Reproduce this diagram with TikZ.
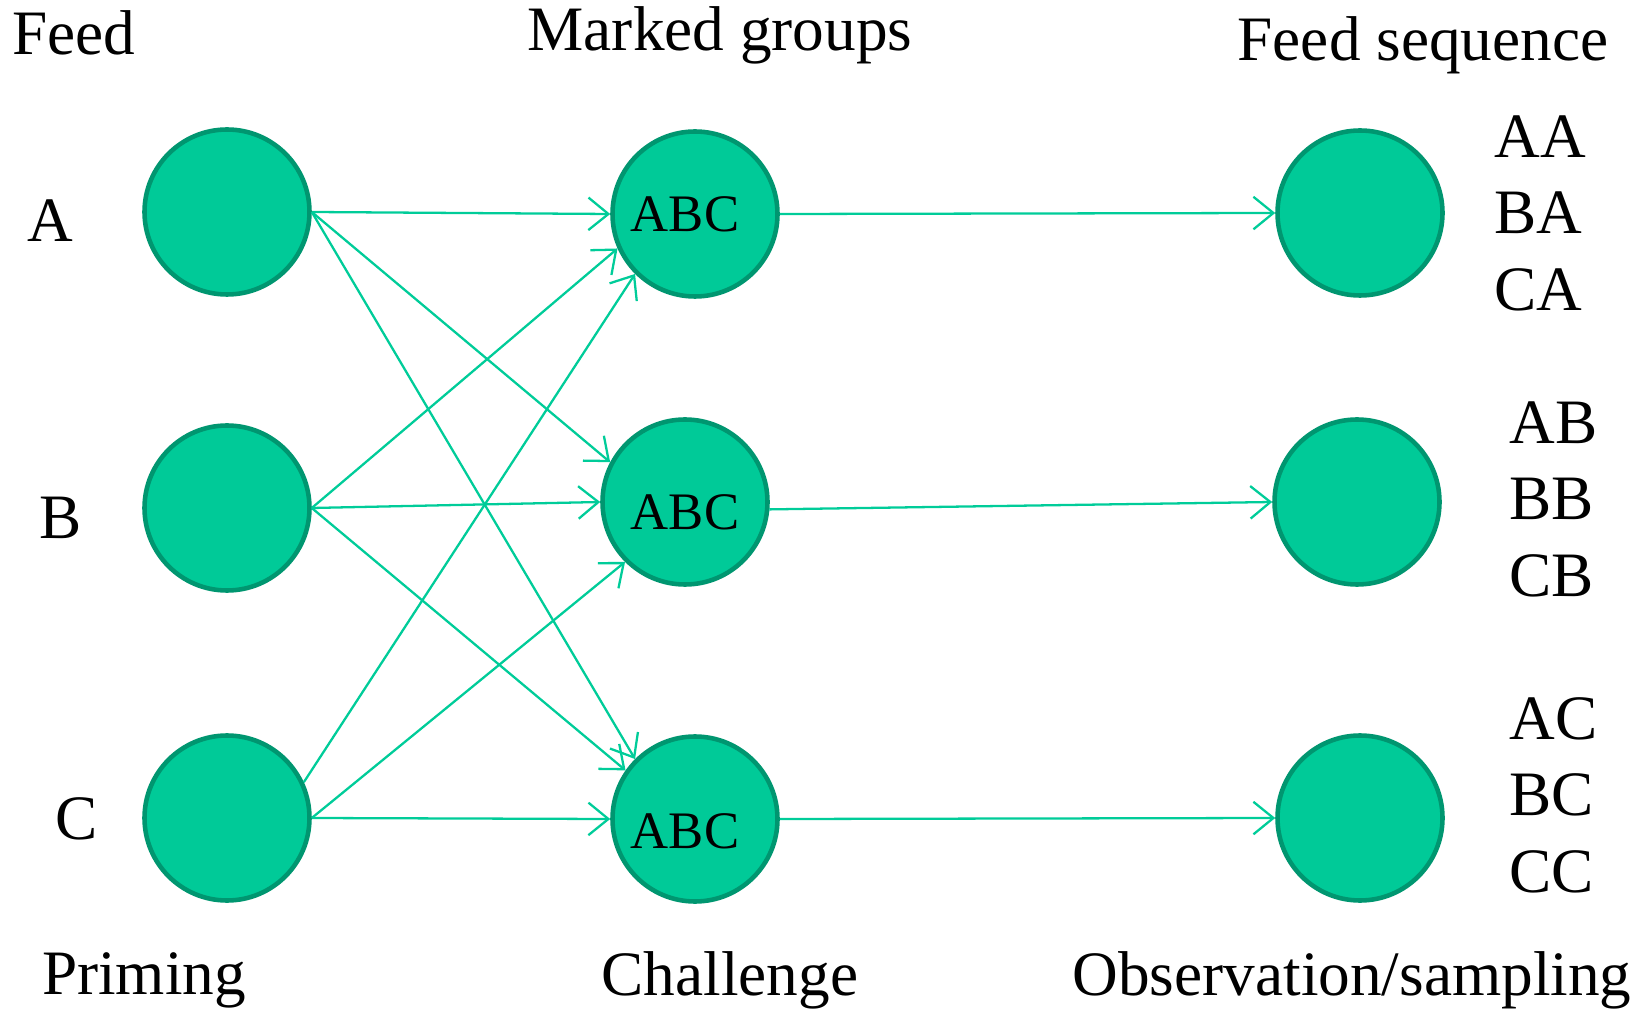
\documentclass[tikz,border=0pt]{standalone}
\usepackage{fontspec}
\setmainfont{Liberation Serif}
\usetikzlibrary{arrows.meta}

\definecolor{groupfill}{RGB}{0,202,152}
\definecolor{groupdraw}{RGB}{0,150,112}
\definecolor{arrowcol}{RGB}{0,204,153}

\tikzset{
    group/.style={draw=groupdraw, line width=2.6pt, circle, fill=groupfill, minimum size=3.3cm, inner sep=0pt, font=\fontsize{30}{36}\selectfont},
    feedline/.style={draw=arrowcol, line width=1.3pt, -{Straight Barb[length=0.4cm, width=0.65cm, line width=1.3pt]}},
    lbl/.style={font=\fontsize{36}{43.5}\selectfont, inner sep=0pt}
}

\begin{document}
\begin{tikzpicture}
    \useasboundingbox (0,0) rectangle (32.94,20.2);

    % === Titoli ===
    \node[lbl] (tfeed) at (1.48, 19.55) {Feed};
    \node[lbl] (tmarked) at (14.4, 19.5) {Marked groups};
    \node[lbl] (tseq) at (28.46, 19.3) {Feed sequence};

    \node[lbl] (tpriming) at (2.88, 0.6) {Priming};
    \node[lbl] (tchallenge) at (14.6, 0.6) {Challenge};
    \node[lbl] (tobs) at (27.04, 0.6) {Observation/sampling};

    % === Priming ===
    \node[group] (A) at (4.54, 15.96) {};
    \node[group] (B) at (4.54, 10.04) {};
    \node[group] (C) at (4.54, 3.84) {};

    \node[lbl] (la) at (1.0, 15.78) {A};
    \node[lbl] (lb) at (1.22, 9.84) {B};
    \node[lbl] (lc) at (1.54, 3.82) {C};

    % === Challenge ===
    \node[group] (M1) at (13.9, 15.92) {\hspace{-0.4cm}ABC};
    \node[group] (M2) at (13.7, 10.16) {\raisebox{-0.21cm}[\height][\depth]{ABC}};
    \node[group] (M3) at (13.9, 3.82) {\hspace{-0.4cm}\raisebox{-0.24cm}[\height][\depth]{ABC}};

    % === Observation ===
    \node[group] (R1) at (27.2, 15.94) {};
    \node[group] (R2) at (27.14, 10.16) {};
    \node[group] (R3) at (27.2, 3.84) {};

    \node[lbl, anchor=west, align=left] (s1) at (29.88, 15.94) {AA\\BA\\CA};
    \node[lbl, anchor=west, align=left] (s2) at (30.18, 10.22) {AB\\BB\\CB};
    \node[lbl, anchor=west, align=left] (s3) at (30.18, 4.3) {AC\\BC\\CC};

    % Frecce
    \draw[feedline] (A.east) -- (M1.west);
    \draw[feedline] (A.east) -- (M2.152);
    \draw[feedline] (A.east) -- (M3.135);
    \draw[feedline] (B.east) -- (M1.204);
    \draw[feedline] (B.east) -- (M2.west);
    \draw[feedline] (B.east) -- (M3.145);
    \draw[feedline] (C.25) -- (M1.225);
    \draw[feedline] (C.east) -- (M2.225);
    \draw[feedline] (C.east) -- (M3.west);

    \draw[feedline] (M1.east) -- (R1.west);
    \draw[feedline] (M2.-5) -- (R2.west);
    \draw[feedline] (M3.east) -- (R3.west);

\end{tikzpicture}
\end{document}
